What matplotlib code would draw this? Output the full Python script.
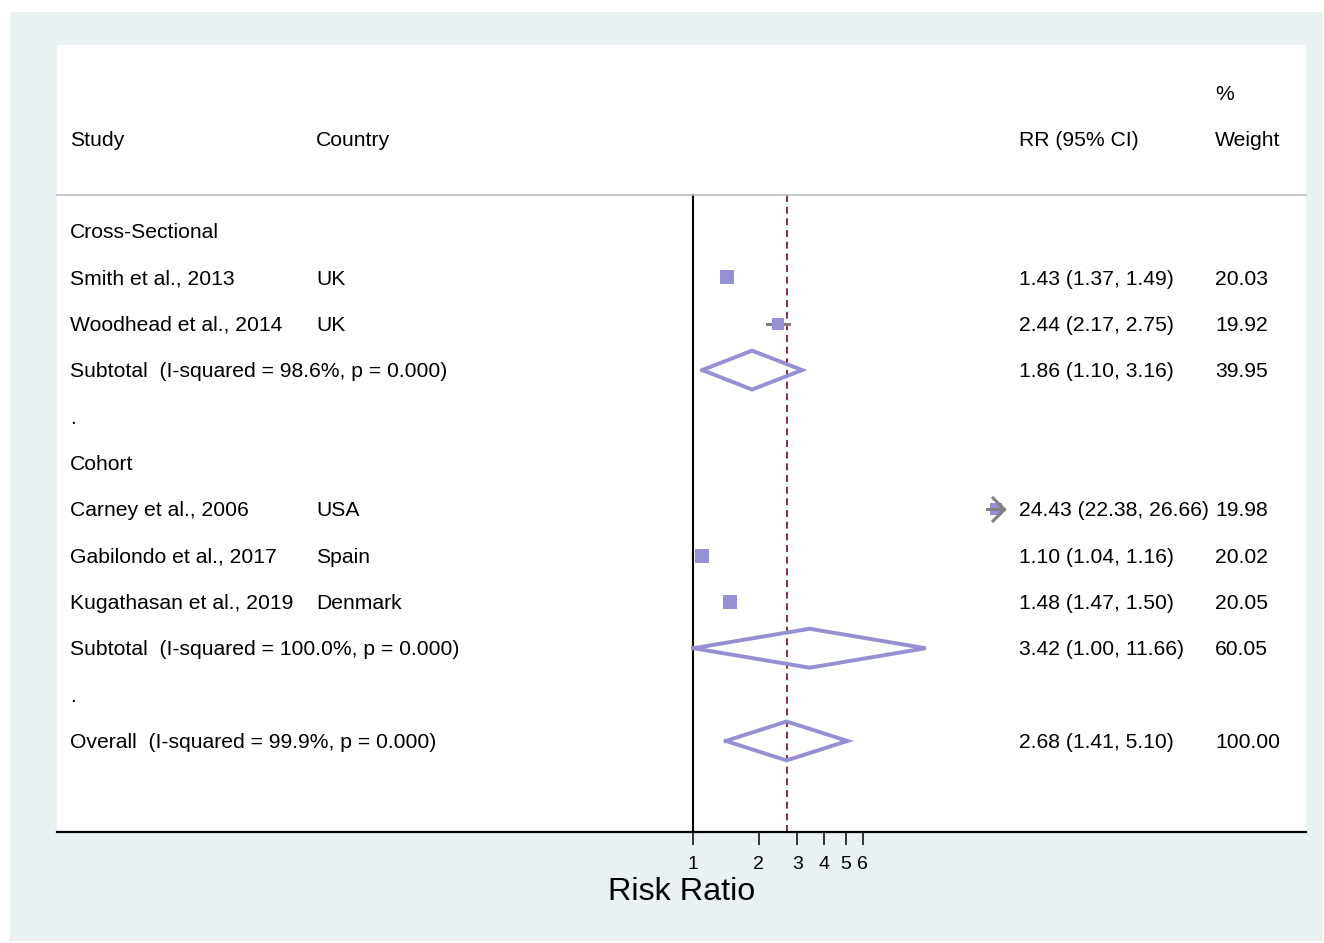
import numpy as np
import matplotlib
matplotlib.use("Agg")
import matplotlib.pyplot as plt
from matplotlib.patches import Rectangle
from matplotlib.path import Path
from matplotlib import transforms

plt.rcParams['font.family'] = ['Liberation Sans', 'DejaVu Sans']

# ---- data ----
group_names = ["Cross-Sectional", "Cohort"]
group_studies = [
    ["Smith et al., 2013", "Woodhead et al., 2014"],
    ["Carney et al., 2006", "Gabilondo et al., 2017", "Kugathasan et al., 2019"],
]
group_countries = [
    ["UK", "UK"],
    ["USA", "Spain", "Denmark"],
]
group_rr = [[1.43, 2.44], [24.43, 1.10, 1.48]]
group_lo = [[1.37, 2.17], [22.38, 1.04, 1.47]]
group_hi = [[1.49, 2.75], [26.66, 1.16, 1.50]]
group_weight = [[20.03, 19.92], [19.98, 20.02, 20.05]]

sub_i2 = ["98.6%", "100.0%"]
sub_rr = [1.86, 3.42]
sub_lo = [1.10, 1.00]
sub_hi = [3.16, 11.66]
sub_weight = [39.95, 60.05]

overall_i2 = "99.9%"
overall_rr = 2.68
overall_lo = 1.41
overall_hi = 5.10

x_ticks = [1, 2, 3, 4, 5, 6]
x_max = 26.0  # right end of plotted range, CIs beyond get an arrow

# ---- style ----
W, H = 1324, 943
PT = 72 / 100  # points per pixel at dpi 100
purple = '#958FD3'
ci_gray = '#7F7F7F'
dash_red = '#8C2D3A'
bg = '#EAF1F3'
fs = 15.2

fig = plt.figure(figsize=(W / 100, H / 100), dpi=100)
fig.patches.append(Rectangle((10 / W, 2 / H), 1313 / W, 929 / H,
                             transform=fig.transFigure, facecolor=bg,
                             edgecolor='none', zorder=-10))

ax = fig.add_axes([57 / W, 111 / H, 1249 / W, 787 / H])
ax.set_facecolor('white')

# x scale: 1 -> px 693.3, 94.6 px per ln unit
px_per_ln = 94.6
x_left = np.exp((57 - 693.3) / px_per_ln)
x_right = np.exp((1306 - 693.3) / px_per_ln)
ax.set_xscale('log')
ax.set_xlim(x_left, x_right)
row_top, row_bottom = -4.012, 12.964
ax.set_ylim(row_bottom, row_top)

tr = transforms.blended_transform_factory(ax.transAxes, ax.transData)
col_study, col_country, col_rr, col_w = 0.0106, 0.2074, 0.7702, 0.9272
cap_off = 0.155  # half cap height, in rows


def put(x, row, s, **kw):
    ax.text(x, row + cap_off, s, transform=tr, va='baseline', ha='left',
            fontsize=fs, color='black', **kw)


def diamond(est, lo, hi, row):
    h = 0.42
    xs = [lo, est, hi, est, lo]
    ys = [row, row - h, row, row + h, row]
    ax.plot(xs, ys, color=purple, lw=2.8, solid_joinstyle='miter', zorder=4)


# header
put(col_study, -1.985, "Study")
put(col_country, -1.985, "Country")
put(col_rr, -1.985, "RR (95% CI)")
put(col_w, -2.977, "%")
put(col_w, -1.985, "Weight")
hline_row = -0.777
ax.plot([x_left, x_right], [hline_row, hline_row], color='#BDBDBD', lw=1.2,
        clip_on=False)

arrow = Path([(-1, 1), (0, 0), (-1, -1)],
             [Path.MOVETO, Path.LINETO, Path.LINETO])

row = 0
for g in range(len(group_names)):
    put(col_study, row, group_names[g])
    row += 1
    for k in range(len(group_studies[g])):
        rr, lo, hi, w = group_rr[g][k], group_lo[g][k], group_hi[g][k], group_weight[g][k]
        put(col_study, row, group_studies[g][k])
        put(col_country, row, group_countries[g][k])
        put(col_rr, row, f"{rr:.2f} ({lo:.2f}, {hi:.2f})")
        put(col_w, row, f"{w:.2f}")
        ax.plot(rr, row, marker='s', ms=13 * PT * np.sqrt(w / 20), color=purple,
                mew=0, zorder=3)
        if hi > x_max:
            ax.plot([lo, hi], [row, row], color=ci_gray, lw=2.2, zorder=5)
            ax.plot(hi, row, marker=arrow, ms=18, mfc='none', mec=ci_gray,
                    mew=2.2, zorder=5)
        else:
            ax.plot([lo, hi], [row, row], color=ci_gray, lw=2.2, zorder=2)
        row += 1
    put(col_study, row, f"Subtotal  (I-squared = {sub_i2[g]}, p = 0.000)")
    put(col_rr, row, f"{sub_rr[g]:.2f} ({sub_lo[g]:.2f}, {sub_hi[g]:.2f})")
    put(col_w, row, f"{sub_weight[g]:.2f}")
    diamond(sub_rr[g], sub_lo[g], sub_hi[g], row)
    row += 1
    put(col_study, row, ".")
    row += 1

put(col_study, row, f"Overall  (I-squared = {overall_i2}, p = 0.000)")
put(col_rr, row, f"{overall_rr:.2f} ({overall_lo:.2f}, {overall_hi:.2f})")
put(col_w, row, "100.00")
diamond(overall_rr, overall_lo, overall_hi, row)

# reference lines
ax.plot([1, 1], [hline_row, row_bottom], color='black', lw=1.5, zorder=1)
ax.plot([overall_rr, overall_rr], [hline_row, row_bottom], color=dash_red,
        lw=1.4, linestyle=(0, (3.6, 2.4)), zorder=1)

# axes
for side in ['left', 'right', 'top']:
    ax.spines[side].set_visible(False)
ax.spines['bottom'].set_linewidth(1.6)
ax.set_yticks([])
ax.set_xticks(x_ticks)
ax.set_xticklabels([str(t) for t in x_ticks])
ax.xaxis.set_minor_locator(matplotlib.ticker.NullLocator())
ax.tick_params(axis='x', direction='out', length=9, width=1.1,
               labelsize=14, pad=8.5)
ax.set_xlabel("Risk Ratio", fontsize=23.3, labelpad=3)

fig.savefig("out.png", dpi=100, facecolor='white')
